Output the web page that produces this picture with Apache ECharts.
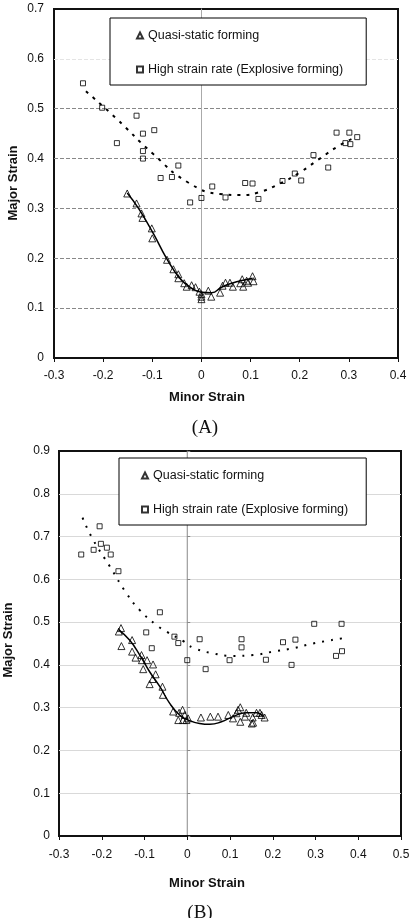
<!DOCTYPE html>
<html>
<head>
<meta charset="utf-8">
<title>Forming limit strains</title>
<script src="https://cdn.jsdelivr.net/npm/echarts@6/dist/echarts.min.js"></script>
<style>
  html, body { margin: 0; padding: 0; background: #fff; }
  #chart { width: 414px; height: 918px; }
</style>
</head>
<body>
<div id="chart"></div>
<script>
// series names
const nameQuasi = 'Quasi-static forming';
const nameExpl = 'High strain rate (Explosive forming)';

// (A) quasi-static points [minor, major]
const quasiA = [
  [-0.151, 0.330], [-0.132, 0.310], [-0.122, 0.290], [-0.120, 0.281], [-0.101, 0.260],
  [-0.100, 0.240], [-0.070, 0.197], [-0.057, 0.178], [-0.047, 0.168], [-0.047, 0.160],
  [-0.035, 0.150], [-0.030, 0.143], [-0.020, 0.146], [-0.012, 0.142], [-0.004, 0.133],
  [0.000, 0.128], [0.000, 0.123], [0.000, 0.118], [0.014, 0.135], [0.020, 0.123],
  [0.038, 0.131], [0.043, 0.145], [0.049, 0.151], [0.058, 0.151], [0.064, 0.143],
  [0.079, 0.150], [0.083, 0.158], [0.085, 0.143], [0.092, 0.155], [0.095, 0.151],
  [0.104, 0.164], [0.106, 0.154]
];
// (A) explosive forming points
const explA = [
  [-0.241, 0.551], [-0.202, 0.502], [-0.132, 0.486], [-0.172, 0.431], [-0.119, 0.450],
  [-0.096, 0.457], [-0.119, 0.415], [-0.119, 0.400], [-0.047, 0.386], [-0.083, 0.361],
  [-0.060, 0.363], [0.000, 0.321], [-0.023, 0.312], [0.022, 0.344], [0.049, 0.322],
  [0.089, 0.351], [0.104, 0.350], [0.116, 0.319], [0.165, 0.355], [0.190, 0.370],
  [0.203, 0.356], [0.228, 0.407], [0.258, 0.382], [0.275, 0.452], [0.301, 0.452],
  [0.293, 0.431], [0.303, 0.429], [0.317, 0.443]
];
// (A) trend lines
const fitQuasiA = [
  [-0.151, 0.331], [-0.128, 0.300], [-0.098, 0.250], [-0.071, 0.200], [-0.044, 0.160],
  [-0.020, 0.140], [0.000, 0.132], [0.021, 0.131], [0.041, 0.142], [0.065, 0.151],
  [0.085, 0.156], [0.104, 0.160]
];
const fitExplA = [
  [-0.235, 0.535], [-0.176, 0.483], [-0.098, 0.409], [-0.027, 0.352], [0.038, 0.329],
  [0.079, 0.327], [0.116, 0.332], [0.160, 0.350], [0.200, 0.372], [0.241, 0.400],
  [0.282, 0.427], [0.316, 0.444]
];

// (B) quasi-static points
const quasiB = [
  [-0.160, 0.478], [-0.155, 0.486], [-0.154, 0.444], [-0.129, 0.458], [-0.129, 0.431],
  [-0.121, 0.417], [-0.107, 0.423], [-0.106, 0.411], [-0.103, 0.390], [-0.094, 0.411],
  [-0.088, 0.355], [-0.081, 0.367], [-0.080, 0.401], [-0.074, 0.378], [-0.058, 0.349],
  [-0.057, 0.330], [-0.033, 0.291], [-0.021, 0.271], [-0.019, 0.288], [-0.011, 0.295],
  [-0.010, 0.271], [-0.006, 0.283], [-0.002, 0.271], [0.002, 0.275], [0.032, 0.277],
  [0.054, 0.279], [0.072, 0.279], [0.096, 0.283], [0.107, 0.275], [0.115, 0.287],
  [0.119, 0.295], [0.124, 0.301], [0.124, 0.267], [0.135, 0.279], [0.138, 0.288],
  [0.151, 0.263], [0.153, 0.277], [0.154, 0.265], [0.162, 0.288], [0.170, 0.288],
  [0.174, 0.283], [0.181, 0.277]
];
// (B) explosive forming points
const explB = [
  [-0.248, 0.658], [-0.219, 0.669], [-0.205, 0.724], [-0.202, 0.683], [-0.188, 0.674],
  [-0.179, 0.658], [-0.161, 0.619], [-0.064, 0.523], [-0.096, 0.476], [-0.030, 0.466],
  [-0.021, 0.451], [-0.083, 0.439], [0.029, 0.460], [0.000, 0.411], [0.043, 0.390],
  [0.099, 0.411], [0.127, 0.460], [0.127, 0.441], [0.184, 0.412], [0.224, 0.453],
  [0.253, 0.459], [0.244, 0.400], [0.297, 0.496], [0.361, 0.496], [0.348, 0.421],
  [0.362, 0.432]
];
// (B) trend lines
const fitQuasiB = [
  [-0.160, 0.482], [-0.135, 0.458], [-0.111, 0.423], [-0.088, 0.384], [-0.064, 0.349],
  [-0.041, 0.310], [-0.018, 0.283], [0.002, 0.271], [0.029, 0.263], [0.053, 0.261],
  [0.080, 0.267], [0.107, 0.279], [0.138, 0.288], [0.162, 0.288], [0.177, 0.279]
];
const fitExplB = [
  [-0.245, 0.744], [-0.220, 0.692], [-0.181, 0.630], [-0.142, 0.567], [-0.111, 0.528],
  [-0.072, 0.493], [-0.049, 0.478], [-0.010, 0.456], [0.014, 0.440], [0.060, 0.427],
  [0.107, 0.421], [0.154, 0.423], [0.201, 0.431], [0.248, 0.439], [0.294, 0.450],
  [0.362, 0.462]
];

// axis ranges
const xRangeA = [-0.3, 0.4];
const yRangeA = [0, 0.7];
const xRangeB = [-0.3, 0.5];
const yRangeB = [0, 0.9];

const font = 'Liberation Sans, Arial, sans-serif';
const labelFmt = v => String(Math.round(v * 10) / 10);

function xAxisOf(gridIndex, range, margin) {
  return {
    type: 'value', gridIndex, min: range[0], max: range[1], interval: 0.1,
    axisLine: { show: true, lineStyle: { color: '#111', width: 2 } },
    axisTick: { show: true, length: 4, lineStyle: { color: '#111' } },
    axisLabel: { margin, color: '#111', fontSize: 12, fontFamily: font, formatter: labelFmt },
    splitLine: { show: false }
  };
}

function yAxisOf(gridIndex, range, margin, split) {
  return {
    type: 'value', gridIndex, min: range[0], max: range[1], interval: 0.1,
    axisLine: { show: false, onZero: false },
    axisTick: { show: false },
    axisLabel: { margin, color: '#111', fontSize: 12, fontFamily: font, formatter: labelFmt },
    splitLine: split
  };
}

// vertical line at minor strain = 0
function zeroAxisOf(gridIndex, range, color, ticks) {
  return {
    type: 'value', gridIndex, min: range[0], max: range[1], interval: 0.1,
    axisLine: { show: true, onZero: true, lineStyle: { color, width: 1 } },
    axisTick: { show: ticks, length: 3, lineStyle: { color } },
    axisLabel: { show: false },
    splitLine: { show: false }
  };
}

function scatter(name, data, symbol, size, xi, yi) {
  return {
    name, type: 'scatter', data, symbol, symbolSize: size,
    xAxisIndex: xi, yAxisIndex: yi,
    itemStyle: { color: 'rgba(255,255,255,0)', borderColor: '#000', borderWidth: 1 },
    z: 3
  };
}

function fitLine(data, lineType, width, xi, yi) {
  return {
    type: 'line', data, smooth: true, showSymbol: false, symbol: 'none',
    xAxisIndex: xi, yAxisIndex: yi,
    lineStyle: { color: '#000', width, type: lineType },
    silent: true, z: 4
  };
}

function legendOf(left, top, padding) {
  return {
    orient: 'vertical', left, top, padding, itemGap: 21,
    itemWidth: 6, itemHeight: 6,
    borderColor: '#000', borderWidth: 1, backgroundColor: '#fff',
    textStyle: { fontSize: 12.5, fontFamily: font, color: '#111' },
    data: [nameQuasi, nameExpl]
  };
}

const chart = echarts.init(document.getElementById('chart'));
chart.setOption({
  animation: false,
  backgroundColor: '#fff',
  grid: [
    { left: 54, top: 9, width: 344, height: 349, show: true, borderColor: '#111', borderWidth: 2, backgroundColor: '#fff' },
    { left: 59, top: 451, width: 342, height: 385, show: true, borderColor: '#111', borderWidth: 2, backgroundColor: '#fff' }
  ],
  xAxis: [xAxisOf(0, xRangeA, 12), xAxisOf(1, xRangeB, 13)],
  yAxis: [
    yAxisOf(0, yRangeA, 10, { show: true, showMinLine: false, showMaxLine: false,
      lineStyle: { type: [4, 2], width: 1,
        color: ['#888', '#888', '#888', '#888', '#888', '#e4e4e4'] } }),
    zeroAxisOf(0, yRangeA, '#aaa', false),
    yAxisOf(1, yRangeB, 9, { show: true, showMinLine: false, showMaxLine: false,
      lineStyle: { type: 'solid', width: 1, color: '#d9d9d9' } }),
    zeroAxisOf(1, yRangeB, '#888', true)
  ],
  legend: [legendOf(110, 18, [11, 23, 9, 26]), legendOf(119, 458, [11, 18, 9, 22])],
  series: [
    scatter(nameQuasi, quasiA, 'triangle', 7, 0, 0),
    scatter(nameExpl, explA, 'rect', 5, 0, 0),
    fitLine(fitQuasiA, 'solid', 1.5, 0, 0),
    fitLine(fitExplA, [3, 6], 2, 0, 0),
    scatter(nameQuasi, quasiB, 'triangle', 7, 1, 2),
    scatter(nameExpl, explB, 'rect', 5, 1, 2),
    fitLine(fitQuasiB, 'solid', 1.5, 1, 2),
    fitLine(fitExplB, [2, 7], 2, 1, 2)
  ],
  graphic: [
    { type: 'text', style: { text: 'Minor Strain', x: 207, y: 397, align: 'center', verticalAlign: 'middle', font: 'bold 13px ' + font, fill: '#111' } },
    { type: 'text', style: { text: 'Major Strain', x: 0, y: 0, align: 'center', verticalAlign: 'middle', font: 'bold 13px ' + font, fill: '#111' }, x: 13, y: 183, rotation: Math.PI / 2 },
    { type: 'text', style: { text: '(A)', x: 205, y: 428, align: 'center', verticalAlign: 'middle', font: '19px Liberation Serif, Times New Roman, serif', fill: '#111' } },
    { type: 'text', style: { text: 'Minor Strain', x: 207, y: 883, align: 'center', verticalAlign: 'middle', font: 'bold 13px ' + font, fill: '#111' } },
    { type: 'text', style: { text: 'Major Strain', x: 0, y: 0, align: 'center', verticalAlign: 'middle', font: 'bold 13px ' + font, fill: '#111' }, x: 8, y: 640, rotation: Math.PI / 2 },
    { type: 'text', style: { text: '(B)', x: 200, y: 913, align: 'center', verticalAlign: 'middle', font: '19px Liberation Serif, Times New Roman, serif', fill: '#111' } }
  ]
});
</script>
</body>
</html>
